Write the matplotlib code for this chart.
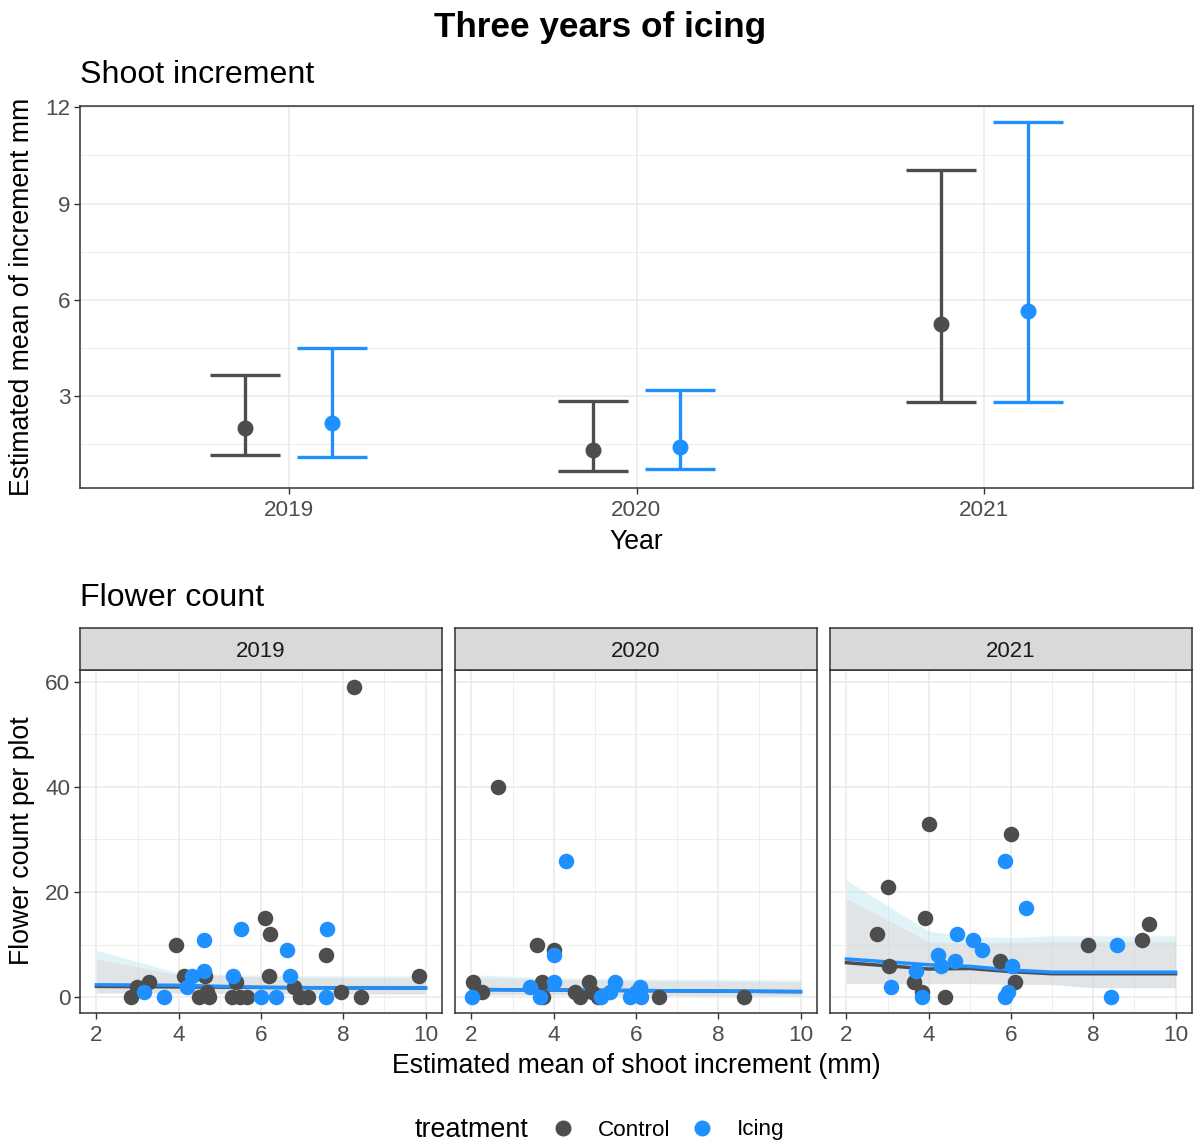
import matplotlib
matplotlib.use("Agg")
import matplotlib.pyplot as plt
import numpy as np
from matplotlib.lines import Line2D
from matplotlib.ticker import MultipleLocator

plt.rcParams['font.family'] = ['Liberation Sans', 'DejaVu Sans']

# ---------------- data ----------------
years = ["2019", "2020", "2021"]
treatments = ["Control", "Icing"]

# Shoot increment: estimated means with CI
est_control = [1.99, 1.32, 5.24]
lo_control = [1.17, 0.67, 2.80]
hi_control = [3.65, 2.85, 10.03]
est_icing = [2.16, 1.42, 5.65]
lo_icing = [1.11, 0.73, 2.80]
hi_icing = [4.49, 3.20, 11.55]

# Flower count scatter
x2019_control = [8.26, 6.09, 6.23, 3.94, 7.58, 9.84, 4.12, 4.65, 6.19, 5.40, 3.27, 2.99,
                 6.80, 2.83, 4.69, 4.49, 4.73, 5.30, 5.50, 5.66, 6.96, 7.14, 7.95, 8.43]
y2019_control = [59, 15, 12, 10, 8, 4, 4, 4, 4, 3, 3, 2, 2, 0, 1, 0, 0, 0, 0, 0, 0, 0, 1, 0]
x2019_icing = [5.52, 7.61, 4.61, 6.64, 4.61, 5.31, 6.70, 4.33, 4.20, 3.15, 3.64, 5.99, 6.37, 7.59]
y2019_icing = [13, 13, 11, 9, 5, 4, 4, 4, 2, 1, 0, 0, 0, 0]

x2020_control = [2.64, 3.60, 4.00, 2.03, 2.26, 3.71, 3.75, 4.52, 4.64, 4.86, 4.92, 5.08, 6.57, 8.63]
y2020_control = [40, 10, 9, 3, 1, 3, 0, 1, 0, 3, 1, 0, 0, 0]
x2020_icing = [4.30, 4.00, 4.00, 3.43, 3.67, 2.02, 5.48, 5.36, 5.14, 6.09, 5.85, 6.13, 6.00]
y2020_icing = [26, 8, 3, 2, 0, 0, 3, 1, 0, 2, 0, 0, 1]

x2021_control = [4.00, 6.00, 3.00, 3.92, 2.74, 9.36, 9.18, 7.88, 5.73, 3.03, 3.65, 6.09, 3.83, 4.39]
y2021_control = [33, 31, 21, 15, 12, 14, 11, 10, 7, 6, 3, 3, 1, 0]
x2021_icing = [5.86, 6.36, 4.69, 5.07, 5.30, 8.58, 4.23, 4.65, 4.31, 3.69, 6.02, 3.08, 3.83,
               5.92, 5.86, 8.44]
y2021_icing = [26, 17, 12, 11, 9, 10, 8, 7, 6, 5, 6, 2, 0, 1, 0, 0]

# Smooth fits with confidence bands
fitx_2019 = [2, 4, 6, 8, 10]
fit2019_control = [2.1, 2.0, 1.9, 1.8, 1.8]
fitlo2019_control = [0.9, 0.9, 0.8, 0.7, 0.7]
fithi2019_control = [7.3, 4.3, 3.9, 3.7, 3.7]
fit2019_icing = [2.4, 2.3, 1.9, 1.8, 1.8]
fitlo2019_icing = [0.8, 0.8, 0.7, 0.6, 0.6]
fithi2019_icing = [9.0, 4.6, 4.2, 4.1, 4.1]

fitx_2020 = [2, 4, 6, 8, 10]
fit2020_control = [1.5, 1.4, 1.3, 1.2, 1.1]
fitlo2020_control = [0.5, 0.5, 0.4, 0.3, 0.3]
fithi2020_control = [3.8, 3.4, 3.2, 3.1, 3.0]
fit2020_icing = [1.5, 1.4, 1.3, 1.2, 1.1]
fitlo2020_icing = [0.5, 0.5, 0.4, 0.3, 0.3]
fithi2020_icing = [4.3, 3.7, 3.5, 3.4, 3.3]

fitx_2021 = [2, 4, 5, 6, 7, 8, 10]
fit2021_control = [6.6, 5.4, 5.5, 4.9, 4.5, 4.5, 4.5]
fitlo2021_control = [2.6, 2.6, 2.6, 2.5, 2.4, 1.8, 1.8]
fithi2021_control = [18.8, 10.6, 10.3, 10.5, 10.6, 10.6, 10.6]
fit2021_icing = [7.3, 6.2, 5.9, 5.2, 4.8, 4.8, 4.8]
fitlo2021_icing = [2.7, 2.7, 2.7, 2.6, 2.5, 1.9, 1.9]
fithi2021_icing = [22.3, 12.6, 11.5, 11.4, 11.7, 11.7, 11.7]

# ---------------- style ----------------
C_CTRL = "#4D4D4D"
C_ICE = "#1E90FF"
GRID = "#EBEBEB"
BORDER = "#333333"
TICKC = "#4D4D4D"
AX_TITLE = 19.2
TICK_SIZE = 16.2

W, H = 1196, 1144
fig = plt.figure(figsize=(W / 100, H / 100), dpi=100)


def fx(px):
    return px / W


def fy(py):
    return 1 - py / H


def style_axes(ax):
    for s in ax.spines.values():
        s.set_color(BORDER)
        s.set_linewidth(1.1)
    ax.set_facecolor("white")
    ax.tick_params(axis='both', which='major', length=4.5, width=1.0, color=BORDER,
                   labelcolor=TICKC, labelsize=TICK_SIZE, pad=2.5)
    ax.tick_params(axis='both', which='minor', length=0)
    ax.grid(which='major', color=GRID, lw=1.2, zorder=0)
    ax.grid(which='minor', color=GRID, lw=0.6, zorder=0)
    ax.set_axisbelow(True)


# ---------------- top panel ----------------
L, R = 80, 1193
ax1 = fig.add_axes([fx(L), fy(488), fx(R - L), (488 - 106) / H])
style_axes(ax1)
pos = np.arange(1, len(years) + 1)
dodge = 0.125
capw = 0.1
for off, est, lo, hi, col in [(-dodge, est_control, lo_control, hi_control, C_CTRL),
                              (dodge, est_icing, lo_icing, hi_icing, C_ICE)]:
    xp = pos + off
    ax1.vlines(xp, lo, hi, color=col, lw=2.4, zorder=3)
    ax1.hlines(lo, xp - capw, xp + capw, color=col, lw=2.4, zorder=3)
    ax1.hlines(hi, xp - capw, xp + capw, color=col, lw=2.4, zorder=3)
    ax1.plot(xp, est, 'o', color=col, ms=10.5, zorder=4, lw=0)
ax1.set_xlim(0.4, 3.6)
ax1.set_ylim(0.13, 12.04)
ax1.set_xticks(pos)
ax1.set_xticklabels(years)
ax1.yaxis.set_major_locator(MultipleLocator(3))
ax1.yaxis.set_minor_locator(MultipleLocator(1.5))
ax1.tick_params(axis='x', pad=4)
ax1.xaxis.grid(True, which='major')

fig.text(fx(636), fy(542), "Year", ha='center', va='center', fontsize=AX_TITLE, color='black')
fig.text(fx(22), fy(297), "Estimated mean of increment mm", rotation=90, ha='center',
         va='center', fontsize=AX_TITLE, color='black')
fig.text(fx(600), fy(27), "Three years of icing", ha='center', va='center', fontsize=25.3,
         fontweight='bold', color='black')
fig.text(fx(80), fy(75), "Shoot increment", ha='left', va='center', fontsize=23.1,
         color='black')
fig.text(fx(80), fy(598), "Flower count", ha='left', va='center', fontsize=23.1,
         color='black')

# ---------------- bottom panels ----------------
panel_left = [80, 455, 830]
pw = 362
ptop, pbot, stop = 670, 1013, 628
scatter_data = {
    "2019": (x2019_control, y2019_control, x2019_icing, y2019_icing),
    "2020": (x2020_control, y2020_control, x2020_icing, y2020_icing),
    "2021": (x2021_control, y2021_control, x2021_icing, y2021_icing),
}
fit_data = {
    "2019": (fitx_2019, fit2019_control, fitlo2019_control, fithi2019_control,
             fit2019_icing, fitlo2019_icing, fithi2019_icing),
    "2020": (fitx_2020, fit2020_control, fitlo2020_control, fithi2020_control,
             fit2020_icing, fitlo2020_icing, fithi2020_icing),
    "2021": (fitx_2021, fit2021_control, fitlo2021_control, fithi2021_control,
             fit2021_icing, fitlo2021_icing, fithi2021_icing),
}
for i, yr in enumerate(years):
    left = panel_left[i]
    ax = fig.add_axes([fx(left), fy(pbot), fx(pw), (pbot - ptop) / H])
    style_axes(ax)
    fxs, cf, clo, chi, icf, ilo, ihi = fit_data[yr]
    ax.fill_between(fxs, ilo, ihi, color="#AEE3EA", alpha=0.38, lw=0, zorder=1)
    ax.fill_between(fxs, clo, chi, color="#E0C8C8", alpha=0.35, lw=0, zorder=1.1)
    ax.plot(fxs, cf, color=C_CTRL, lw=2.5, zorder=2)
    ax.plot(fxs, icf, color=C_ICE, lw=2.5, zorder=2.1)
    xc, yc, xi, yi = scatter_data[yr]
    ax.scatter(xc, yc, s=125, color=C_CTRL, zorder=3, lw=0)
    ax.scatter(xi, yi, s=125, color=C_ICE, zorder=3.1, lw=0)
    ax.set_xlim(1.6, 10.4)
    ax.set_ylim(-2.96, 62.2)
    ax.xaxis.set_major_locator(MultipleLocator(2))
    ax.xaxis.set_minor_locator(MultipleLocator(1))
    ax.yaxis.set_major_locator(MultipleLocator(20))
    ax.yaxis.set_minor_locator(MultipleLocator(10))
    ax.tick_params(axis='x', pad=4)
    if i > 0:
        ax.tick_params(axis='y', which='both', left=False, labelleft=False)
    # strip
    sax = fig.add_axes([fx(left), fy(ptop), fx(pw), (ptop - stop) / H])
    sax.set_facecolor("#D9D9D9")
    sax.set_xticks([])
    sax.set_yticks([])
    for s in sax.spines.values():
        s.set_color(BORDER)
        s.set_linewidth(1.1)
    sax.text(0.5, 0.45, yr, ha='center', va='center', fontsize=16, color="#1A1A1A",
             transform=sax.transAxes)

fig.text(fx(636), fy(1066), "Estimated mean of shoot increment (mm)", ha='center',
         va='center', fontsize=AX_TITLE, color='black')
fig.text(fx(22), fy(841), "Flower count per plot", rotation=90, ha='center',
         va='center', fontsize=AX_TITLE, color='black')

# ---------------- legend ----------------
fig.text(fx(472), fy(1130), "treatment", ha='center', va='center', fontsize=19.4,
         color='black')
handles = [Line2D([], [], marker='o', ls='', color=C_CTRL, ms=10.5),
           Line2D([], [], marker='o', ls='', color=C_ICE, ms=10.5)]
fig.legend(handles, treatments, loc='center left', bbox_to_anchor=(fx(552), fy(1130)),
           ncol=2, frameon=False, fontsize=16.2, handlelength=1.0, handletextpad=1.05,
           columnspacing=0.9, borderpad=0, borderaxespad=0)

fig.savefig("out.png", dpi=100)
